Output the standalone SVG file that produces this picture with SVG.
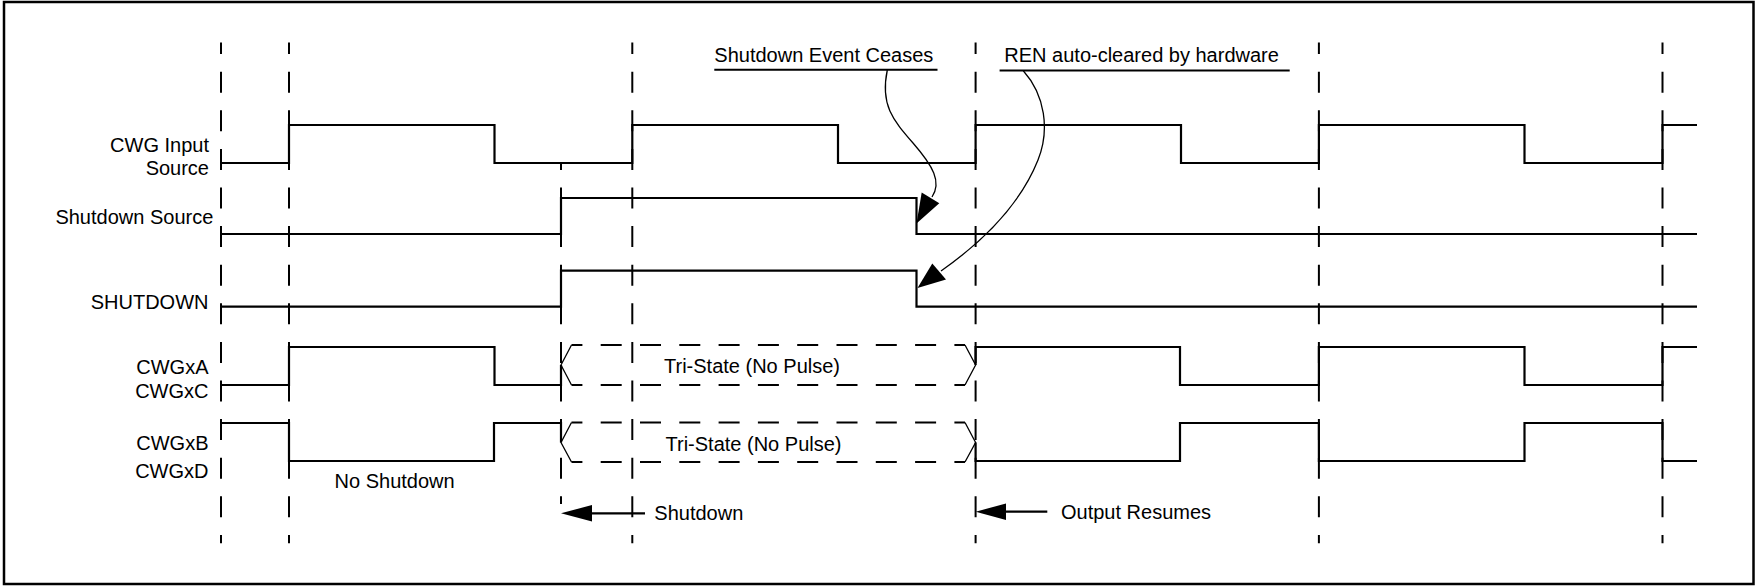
<svg xmlns="http://www.w3.org/2000/svg" width="1758" height="587" viewBox="0 0 1758 587">
<style>
  .t { font-family: "Liberation Sans", Arial, sans-serif; font-size: 20px; fill: #000; }
  .r { text-anchor: end; }
  .sig { fill: none; stroke: #000; stroke-width: 2.2; stroke-linejoin: miter; }
  .grid { fill: none; stroke: #000; stroke-width: 2; stroke-dasharray: 21 17.6; }
  .hex { fill: none; stroke: #000; stroke-width: 2; stroke-dasharray: 21 18.3; }
  .diag { fill: none; stroke: #000; stroke-width: 1.3; }
  .ul { stroke: #000; stroke-width: 2; }
  .curve { fill: none; stroke: #000; stroke-width: 1.3; }
  .head { fill: #000; stroke: none; }
</style>
<rect x="4" y="2" width="1749.5" height="582" fill="#fff" stroke="#000" stroke-width="2.5"/>

<g id="gridlines">
  <line class="grid" x1="221" y1="42.5" x2="221" y2="543.3" stroke-dashoffset="9.4"/>
  <line class="grid" x1="289" y1="42.5" x2="289" y2="543.3" stroke-dashoffset="9.4"/>
  <line class="grid" x1="632.3" y1="42.5" x2="632.3" y2="543.3" stroke-dashoffset="9.4"/>
  <line class="grid" x1="975.6" y1="42.5" x2="975.6" y2="543.3" stroke-dashoffset="9.4"/>
  <line class="grid" x1="1318.9" y1="42.5" x2="1318.9" y2="543.3" stroke-dashoffset="9.4"/>
  <line class="grid" x1="1662.5" y1="42.5" x2="1662.5" y2="543.3" stroke-dashoffset="9.4"/>
  <line class="grid" x1="561" y1="163" x2="561" y2="504" stroke-dashoffset="14.1"/>
</g>

<g id="labels">
  <text class="t r" x="209" y="151.5">CWG Input</text>
  <text class="t r" x="209" y="175">Source</text>
  <text class="t r" x="213.3" y="224">Shutdown Source</text>
  <text class="t r" x="208.5" y="308.5">SHUTDOWN</text>
  <text class="t r" x="208.5" y="373.5">CWGxA</text>
  <text class="t r" x="208.5" y="398">CWGxC</text>
  <text class="t r" x="208.5" y="450">CWGxB</text>
  <text class="t r" x="208.5" y="477.5">CWGxD</text>
</g>

<g id="sig-cwg-input">
  <polyline class="sig" points="221,163 289,163 289,125 494.5,125 494.5,163 632.3,163 632.3,125 838,125 838,163 975.6,163 975.6,125 1181,125 1181,163 1318.9,163 1318.9,125 1524.5,125 1524.5,163 1662.5,163 1662.5,125 1697,125"/>
</g>
<g id="sig-shutdown-source">
  <polyline class="sig" points="221,234 561,234 561,198 916.5,198 916.5,234 1697,234"/>
</g>
<g id="sig-shutdown">
  <polyline class="sig" points="221,306.7 561,306.7 561,270.7 916.5,270.7 916.5,306.7 1697,306.7"/>
</g>
<g id="sig-cwgxa">
  <polyline class="sig" points="221,385 289,385 289,347 494.5,347 494.5,385 561,385 561,365"/>
  <polyline class="sig" points="975.6,365 975.6,347 1180,347 1180,385 1318.9,385 1318.9,347 1524.5,347 1524.5,385 1662.5,385 1662.5,347 1697,347"/>
</g>
<g id="sig-cwgxb">
  <polyline class="sig" points="221,423 289,423 289,461 494,461 494,423 561,423 561,442.5"/>
  <polyline class="sig" points="975.6,442.5 975.6,461 1180,461 1180,423 1318.9,423 1318.9,461 1524.5,461 1524.5,423 1662.5,423 1662.5,461 1697,461"/>
</g>

<g id="tristate-a">
  <line class="hex" x1="571.5" y1="345" x2="965" y2="345" stroke-dashoffset="10.1"/>
  <line class="hex" x1="571.5" y1="385" x2="965" y2="385" stroke-dashoffset="10.1"/>
  <polyline class="diag" points="571.5,345 561,365 571.5,385"/>
  <polyline class="diag" points="965,345 975.6,365 965,385"/>
  <text class="t" x="752" y="372.5" text-anchor="middle">Tri-State (No Pulse)</text>
</g>
<g id="tristate-b">
  <line class="hex" x1="571.5" y1="422.5" x2="965" y2="422.5" stroke-dashoffset="10.1"/>
  <line class="hex" x1="571.5" y1="462" x2="965" y2="462" stroke-dashoffset="10.1"/>
  <polyline class="diag" points="571.5,422.5 561,442.5 571.5,462"/>
  <polyline class="diag" points="965,422.5 975.6,442.5 965,462"/>
  <text class="t" x="753.5" y="450.5" text-anchor="middle">Tri-State (No Pulse)</text>
</g>

<g id="note-no-shutdown">
  <text class="t" x="334.6" y="488">No Shutdown</text>
</g>

<g id="note-shutdown">
  <text class="t" x="654.3" y="520">Shutdown</text>
</g>
<g id="note-output-resumes">
  <text class="t" x="1061" y="518.5">Output Resumes</text>
</g>
<g id="note-event-ceases">
  <text class="t" x="714.3" y="61.5">Shutdown Event Ceases</text>
  <line class="ul" x1="714.3" y1="69.7" x2="937.5" y2="69.7"/>
</g>
<g id="note-ren">
  <text class="t" x="1004.3" y="62">REN auto-cleared by hardware</text>
  <line class="ul" x1="999.6" y1="70.5" x2="1289.7" y2="70.5"/>
</g>

<g id="connectors">
  <line class="sig" x1="591" y1="513.3" x2="645" y2="513.3"/>
  <polygon class="head" points="561,513.3 592,505 592,521.6"/>
  <line class="sig" x1="1005" y1="511.7" x2="1047.3" y2="511.7"/>
  <polygon class="head" points="975.7,511.7 1006,503.4 1006,520"/>
  <path class="curve" d="M887.3,70 C880,105 893,120 913,143 C933,166 942,182 932,197"/>
  <polygon class="head" points="916.5,223.5 921.7,192.5 939.3,203.3"/>
  <path class="curve" d="M1023.3,70.7 C1045,95 1050,130 1038,160 C1020,205 985,240 941,271"/>
  <polygon class="head" points="917.5,288 932.3,263.5 946,279.5"/>
</g>
</svg>
